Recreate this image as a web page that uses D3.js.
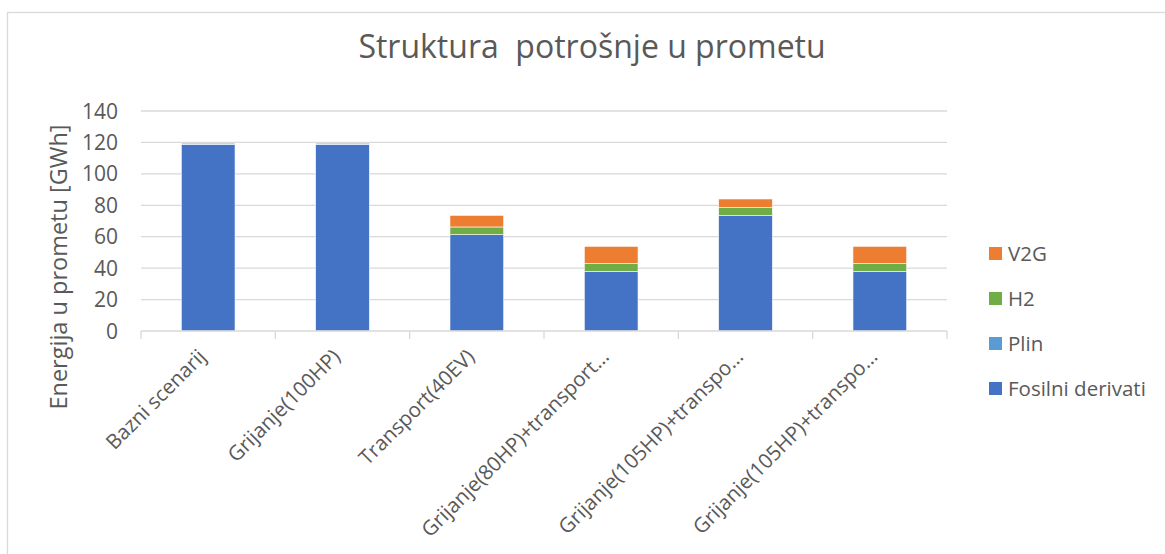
<!DOCTYPE html>
<html>
<head>
<meta charset="utf-8">
<script src="https://cdn.jsdelivr.net/npm/d3@7"></script>
<style>
  body { margin: 0; background: #fff; }
  text { font-family: "Open Sans", "Noto Sans", sans-serif; fill: #595959; }
</style>
</head>
<body>
<svg id="chart" width="1165" height="554"></svg>
<script>
// chart data
var categories = ["Bazni scenarij", "Grijanje(100HP)", "Transport(40EV)",
  "Grijanje(80HP)+transport\u2026", "Grijanje(105HP)+transpo\u2026", "Grijanje(105HP)+transpo\u2026"];
var seriesNames = ["Fosilni derivati", "Plin", "H2", "V2G"];
var fosilni = [118.8, 118.8, 61.3, 37.8, 73.4, 37.8];
var plin    = [0.7, 0.7, 0, 0, 0, 0];
var h2      = [0, 0, 4.9, 5.1, 5.1, 5.1];
var v2g     = [0, 0, 7.4, 11.0, 5.5, 11.0];
var yTicks  = [0, 20, 40, 60, 80, 100, 120, 140];
var colors  = ["#4472C4", "#5B9BD5", "#70AD47", "#ED7D31"];

var svg = d3.select("#chart");
var plot = { left: 141, right: 947, top: 111, bottom: 331 };

// outer chart border (runs off the right and bottom edges)
svg.append("rect")
  .attr("x", 7.5).attr("y", 12.5)
  .attr("width", 1200).attr("height", 600)
  .attr("fill", "none").attr("stroke", "#d9d9d9").attr("stroke-width", 1.3);

var rows = categories.map(function(c, i){
  return { cat: i, "Fosilni derivati": fosilni[i], "Plin": plin[i], "H2": h2[i], "V2G": v2g[i] };
});
var stacked = d3.stack().keys(seriesNames)(rows);

var x = d3.scaleBand()
  .domain(d3.range(categories.length))
  .range([plot.left, plot.right])
  .paddingInner(0.6).paddingOuter(0.3);
var y = d3.scaleLinear().domain([0, 140]).range([plot.bottom, plot.top]);

// gridlines
svg.append("g").selectAll("line")
  .data(yTicks.filter(function(t){ return t > 0; }))
  .enter().append("line")
    .attr("x1", plot.left).attr("x2", plot.right)
    .attr("y1", function(d){ return y(d); }).attr("y2", function(d){ return y(d); })
    .attr("stroke", "#d9d9d9").attr("stroke-width", 1.3);

// y tick labels
svg.append("g").selectAll("text")
  .data(yTicks)
  .enter().append("text")
    .attr("x", 118).attr("y", function(d){ return y(d); })
    .attr("dy", "0.36em")
    .attr("text-anchor", "end")
    .style("font-size", "21px")
    .text(function(d){ return d; });

// bars
svg.append("g").selectAll("g")
  .data(stacked)
  .enter().append("g")
    .attr("fill", function(d, i){ return colors[i]; })
  .selectAll("rect")
  .data(function(d){ return d; })
  .enter().append("rect")
    .attr("x", function(d){ return x(d.data.cat); })
    .attr("width", x.bandwidth())
    .attr("y", function(d){ return y(d[1]); })
    .attr("height", function(d){ return y(d[0]) - y(d[1]); })
    .attr("stroke", "#fff").attr("stroke-width", 0.6);

// x axis line and category boundary ticks
var step = (plot.right - plot.left) / categories.length;
var xAxis = svg.append("g").attr("stroke", "#d9d9d9").attr("stroke-width", 1.3);
xAxis.append("line")
  .attr("x1", plot.left).attr("x2", plot.right)
  .attr("y1", plot.bottom).attr("y2", plot.bottom);
xAxis.selectAll("line.tick")
  .data(d3.range(categories.length + 1))
  .enter().append("line")
    .attr("class", "tick")
    .attr("x1", function(i){ return plot.left + i * step; })
    .attr("x2", function(i){ return plot.left + i * step; })
    .attr("y1", plot.bottom).attr("y2", plot.bottom + 8);

// rotated category labels
svg.append("g").selectAll("text")
  .data(categories)
  .enter().append("text")
    .attr("text-anchor", "end")
    .style("font-size", "20.5px")
    .attr("transform", function(d, i){
      var cx = x(i) + x.bandwidth() / 2;
      return "translate(" + (cx - 1) + ",358) rotate(-45)";
    })
    .text(function(d){ return d; });

// title
svg.append("text")
  .attr("x", 592).attr("y", 58)
  .attr("text-anchor", "middle")
  .style("font-size", "32px")
  .style("white-space", "pre")
  .attr("xml:space", "preserve")
  .text("Struktura  potrošnje u prometu");

// y axis title
svg.append("text")
  .attr("transform", "translate(67,267) rotate(-90)")
  .attr("text-anchor", "middle")
  .style("font-size", "23.5px")
  .text("Energija u prometu [GWh]");

// legend, top entry is the last series
var legend = svg.append("g").selectAll("g")
  .data(seriesNames.slice().reverse())
  .enter().append("g")
    .attr("transform", function(d, i){ return "translate(989," + (247 + i * 45) + ")"; });
legend.append("rect")
  .attr("width", 13).attr("height", 13)
  .attr("fill", function(d){ return colors[seriesNames.indexOf(d)]; });
legend.append("text")
  .attr("x", 19).attr("y", 6.5).attr("dy", "0.36em")
  .style("font-size", "20.5px")
  .text(function(d){ return d; });
</script>
</body>
</html>
